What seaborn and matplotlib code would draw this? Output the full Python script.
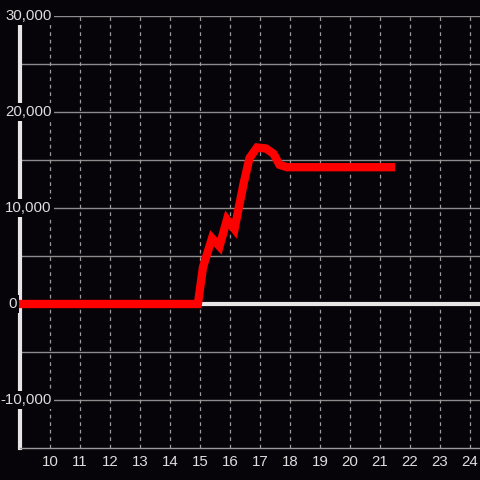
import matplotlib
matplotlib.use("Agg")
import matplotlib.pyplot as plt
import seaborn as sns
import pandas as pd
import numpy as np

# data
hours = [8.9, 14.93, 15.1, 15.4, 15.65, 15.9, 16.15, 16.45, 16.65, 16.9, 17.2, 17.45, 17.65, 17.9, 21.5]
values = [0, 0, 3850, 6850, 6000, 8800, 7800, 12500, 15200, 16300, 16200, 15650, 14500, 14250, 14250]
x_ticks = list(range(10, 25))
y_label_values = [30000, 20000, 10000, 0, -10000]
y_labels = ["30,000", "20,000", "10,000", "0", "-10,000"]
y_grid = list(range(-15000, 30001, 5000))

bg = "#060409"
sns.set_style("dark")
plt.rcParams['font.family'] = ['Liberation Sans', 'DejaVu Sans']

fig = plt.figure(figsize=(4.8, 4.8), dpi=100, facecolor=bg)
ax = fig.add_axes([20/480, 32/480, 460/480, 432/480])
ax.set_facecolor(bg)

df = pd.DataFrame({"hour": hours, "value": values})

ax.set_xlim(9.0, 24.333)
ax.set_ylim(-15000, 30000)

# gridlines
for yv in y_grid:
    if yv in (-15000, 0):
        continue
    ax.axhline(yv, color="#8c8c8c", lw=1, zorder=1)
for xv in x_ticks:
    ax.axvline(xv, color="#9a9a9a", lw=0.9, ls=(0, (3, 3)), zorder=1)

ax.axhline(0, color="#e6e6e6", lw=3, zorder=2)

sns.lineplot(data=df, x="hour", y="value", ax=ax, color="#ff0000", lw=6,
             zorder=3, solid_capstyle="butt", solid_joinstyle="miter", clip_on=False)

fs = 10.8
ax.set_xticks(x_ticks)
ax.set_xticklabels([str(v) for v in x_ticks], color="#dddddd", fontsize=fs)
ax.tick_params(axis="x", length=0, pad=5)
ax.set_yticks([])
ax.set_xlabel("")
ax.set_ylabel("")
ax.grid(False)

for s in ["top", "right"]:
    ax.spines[s].set_visible(False)
ax.spines["bottom"].set_color("#9a9a9a")
ax.spines["bottom"].set_linewidth(1)
ax.spines["left"].set_color("#e6e6e6")
ax.spines["left"].set_linewidth(3)
ax.spines["left"].set_zorder(2)

# y labels as text with black background
for v, lab in zip(y_label_values, y_labels):
    if lab == "0":
        xx, ha = 9 + (8 - 20) / 30, "left"
    else:
        xx, ha = 9 + (51.5 - 20) / 30, "right"
    ax.text(xx, v, lab, ha=ha, va="center", fontsize=fs, color="#dddddd",
            clip_on=False, zorder=5,
            bbox=dict(facecolor=bg, edgecolor="none", pad=1.5))

fig.savefig("out.png", dpi=100, facecolor=bg)
